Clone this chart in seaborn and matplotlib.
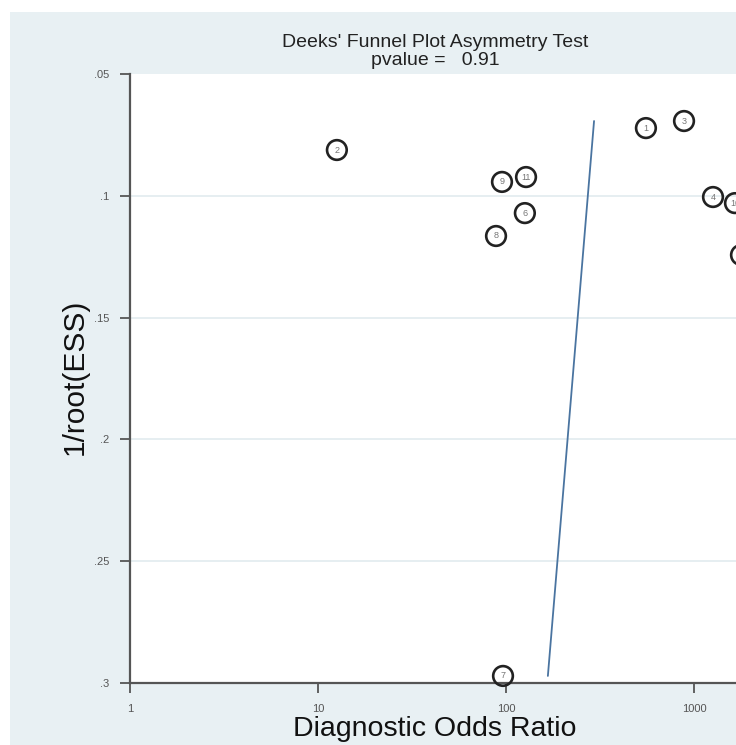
import matplotlib
matplotlib.use("Agg")
import matplotlib.pyplot as plt
import seaborn as sns
import pandas as pd
from matplotlib.patches import Rectangle

# ---- data ----
study = ['1', '2', '3', '4', '5', '6', '7', '8', '9', '10', '11']
dor = [555, 12.6, 885, 1262, 1778, 126, 96.4, 88.5, 95.2, 1652, 127.8]
inv_root_ess = [0.0722, 0.0812, 0.0693, 0.1005, 0.1243, 0.1071, 0.2971, 0.1165, 0.0943, 0.1030, 0.0923]

fit_dor = [167, 294]
fit_y = [0.2971, 0.0693]

y_ticks = [0.05, 0.10, 0.15, 0.20, 0.25, 0.30]
y_ticklabels = ['.05', '.1', '.15', '.2', '.25', '.3']
x_ticks = [1, 10, 100, 1000]
x_ticklabels = ['1', '10', '100', '1000']

title_line1 = "Deeks' Funnel Plot Asymmetry Test"
title_line2 = "pvalue =   0.91"
xlabel = "Diagnostic Odds Ratio"
ylabel = "1/root(ESS)"

df = pd.DataFrame({'study': study, 'dor': dor, 'y': inv_root_ess})
fit = pd.DataFrame({'dor': fit_dor, 'y': fit_y})

sns.set_style("white")
plt.rcParams['font.family'] = ['Liberation Sans', 'DejaVu Sans']

W, H = 736, 745
fig = plt.figure(figsize=(W / 100, H / 100), dpi=100)
fig.patch.set_facecolor('white')
bg = '#e8f0f3'
fig.patches.append(Rectangle((10 / W, 0), 1, 1 - 12 / H, transform=fig.transFigure,
                             facecolor=bg, edgecolor='none', zorder=-10))

# axes: x=130px (DOR 1), y top 74px (.05), bottom 683px (.3); decade = 188px
ax_w_px = 800
ax = fig.add_axes([130 / W, (H - 683) / H, ax_w_px / W, (683 - 74) / H])
ax.set_facecolor('white')
ax.set_xscale('log')
ax.set_xlim(1, 10 ** (ax_w_px / 188))
ax.set_ylim(0.30, 0.05)

for yt in y_ticks[1:-1]:
    ax.axhline(yt, color='#e2ebef', lw=1.2, zorder=0)

sns.lineplot(data=fit, x='dor', y='y', ax=ax, color='#4a74a0', lw=1.3,
             sort=False, estimator=None, zorder=2)
sns.scatterplot(data=df, x='dor', y='y', ax=ax, s=200, marker='o',
                facecolor='none', edgecolor='#222222', linewidth=1.9, zorder=3,
                clip_on=False)
for s, x, y in zip(df['study'], df['dor'], df['y']):
    ax.text(x, y, s, ha='center', va='center', fontsize=6.5, color='#777777', zorder=4,
            clip_on=False)

for side in ['top', 'right']:
    ax.spines[side].set_visible(False)
for side in ['left', 'bottom']:
    ax.spines[side].set_color('#555555')
    ax.spines[side].set_linewidth(1.6)

ax.set_yticks(y_ticks)
ax.set_yticklabels(y_ticklabels)
ax.set_xticks(x_ticks)
ax.set_xticklabels(x_ticklabels)
ax.minorticks_off()
ax.tick_params(axis='both', which='major', direction='out', length=7, width=1.3,
               color='#555555', labelcolor='#555555', labelsize=8, pad=8, left=True, bottom=True)
ax.tick_params(axis='x', pad=8)
ax.set_xlabel('')
ax.set_ylabel('')

fig.text(435 / W, 1 - 47 / H, title_line1, ha='center', va='baseline', fontsize=14, color='#222222')
fig.text(435 / W, 1 - 65 / H, title_line2, ha='center', va='baseline', fontsize=14, color='#222222')
fig.text(435 / W, 1 - 729 / H, xlabel, ha='center', va='center', fontsize=20.5, color='#111111')
fig.text(75 / W, 1 - 377 / H, ylabel, ha='center', va='center', rotation=90, fontsize=21.5, color='#111111')

fig.savefig('out.png', dpi=100)
